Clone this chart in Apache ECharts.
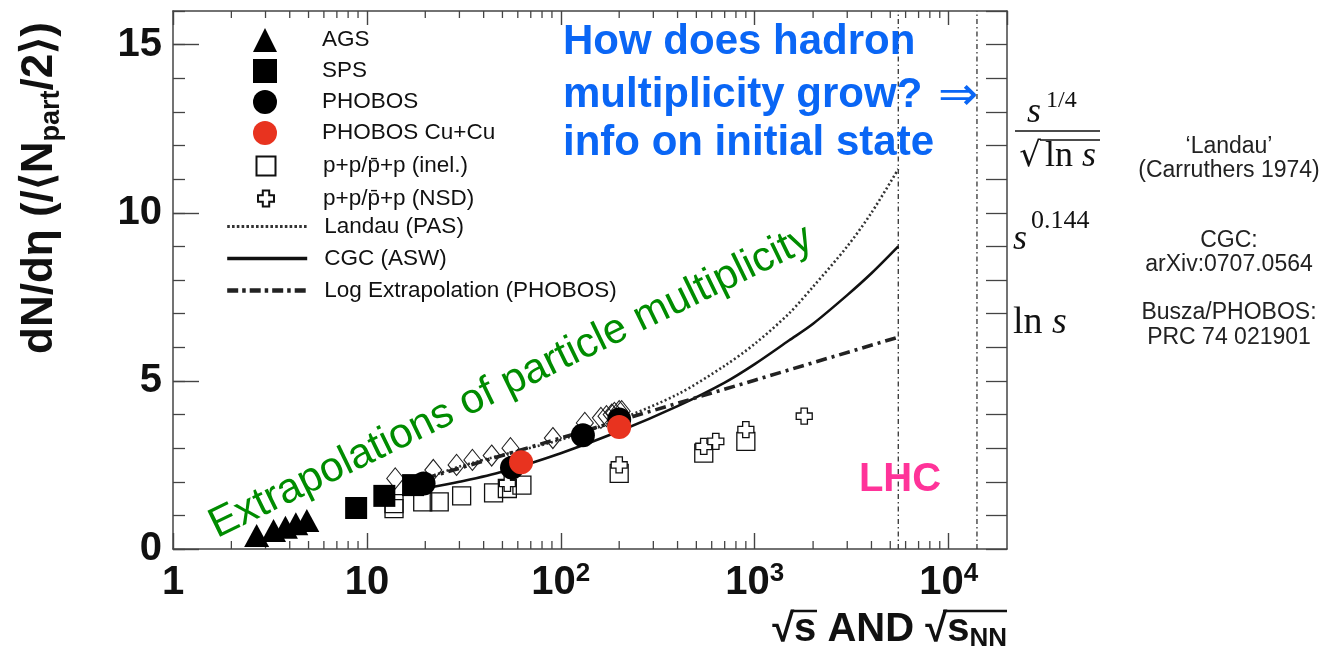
<!DOCTYPE html>
<html><head><meta charset="utf-8">
<script src="https://cdn.jsdelivr.net/npm/echarts@6/dist/echarts.min.js"></script>
<style>html,body{margin:0;padding:0;background:#fff}#c{width:1332px;height:665px}</style>
</head><body><div id="c"></div>
<script>
// ---------------- data ----------------
const agsX = [2.7, 3.3, 3.8, 4.3, 4.9];
const agsY = [0.4, 0.55, 0.65, 0.75, 0.85];
const spsX = [8.8, 12.3, 17.3];
const spsY = [1.22, 1.58, 1.9];
const phobosX = [19.6, 56, 130, 200];
const phobosY = [1.95, 2.42, 3.38, 3.85];
const cuX = [62.4, 200];
const cuY = [2.58, 3.63];
const ppInelX = [13.8, 13.8, 19.4, 23.6, 30.8, 45, 53, 63, 200, 546, 900];
const ppInelY = [1.2, 1.35, 1.4, 1.4, 1.58, 1.67, 1.8, 1.9, 2.25, 2.85, 3.2];
const ppNsdX = [53, 200, 546, 630, 900, 1800];
const ppNsdY = [1.95, 2.5, 3.05, 3.2, 3.55, 3.95];
const eeX = [14, 22, 29, 35, 44, 55, 91, 133, 161, 172, 183, 189, 200, 206];
const eeY = [2.1, 2.35, 2.5, 2.65, 2.78, 3.0, 3.3, 3.75, 3.9, 3.95, 4.0, 4.05, 4.1, 4.1];
const curveX = [20, 30, 50, 100, 200, 400, 700, 1000, 1500, 2000, 3000, 4000, 5500];
const landauY = [2.1, 2.45, 2.8, 3.25, 3.85, 4.6, 5.45, 6.1, 7.0, 7.8, 9.0, 10.0, 11.3];
const cgcY = [1.8, 2.0, 2.3, 2.85, 3.5, 4.25, 4.95, 5.5, 6.2, 6.7, 7.55, 8.2, 9.0];
const logX = [20, 100, 1000, 5500];
const logY = [2.1, 3.3, 5.02, 6.3];
const lhcLines = [5500, 14000];
const xMin = 1, xMax = 20000, yMin = 0, yMax = 16;
const decades = [1, 10, 100, 1000, 10000];
const minorMult = [2, 3, 4, 5, 6, 7, 8, 9];
const yTickLabels = ['0', '5', '10', '15'];

// ---------------- helpers ----------------
const zip = (xs, ys) => xs.map((x, i) => [x, ys[i]]);
const minorX = [];
decades.forEach(d => minorMult.forEach(m => { if (d * m < xMax) minorX.push(d * m); }));
const crossPath = 'path://M3,0H7V3H10V7H7V10H3V7H0V3H3Z';
const sansB = 'Liberation Sans';
const AX = '#444';
const N_INEL = 'p+p/p̄+p (inel.)', N_NSD = 'p+p/p̄+p (NSD)';

const chart = echarts.init(document.getElementById('c'), null, {renderer: 'canvas'});

const series = [];
lhcLines.forEach((e, i) => series.push({
  type: 'line', name: 'lhc' + i, data: [[e, yMin], [e, yMax]], symbol: 'none', silent: true,
  lineStyle: {color: '#333', width: 1.3, type: [5, 3, 1.5, 3]}, z: 1
}));
series.push({type: 'scatter', name: 'mtb', data: minorX.map(v => [v, yMin]), symbol: 'rect',
  symbolSize: [1.3, 8], symbolOffset: [0, -4], itemStyle: {color: AX, opacity: 1}, silent: true, z: 1});
series.push({type: 'scatter', name: 'mtt', data: minorX.map(v => [v, yMax]), symbol: 'rect',
  symbolSize: [1.3, 7], symbolOffset: [0, 3.5], itemStyle: {color: AX, opacity: 1}, silent: true, z: 1});
series.push({type: 'line', name: 'Landau (PAS)', data: zip(curveX, landauY), symbol: 'none', smooth: 0.3,
  lineStyle: {color: '#333', width: 2.6, type: [2, 2.5]}, itemStyle: {color: '#333', opacity: 0}, z: 3});
series.push({type: 'line', name: 'CGC (ASW)', data: zip(curveX, cgcY), symbol: 'none', smooth: 0.3,
  lineStyle: {color: '#111', width: 2.6, type: 'solid'}, itemStyle: {color: '#111', opacity: 0}, z: 3});
series.push({type: 'line', name: 'Log Extrapolation (PHOBOS)', data: zip(logX, logY), symbol: 'none',
  lineStyle: {color: '#222', width: 3.6, type: [11, 5, 3, 5]}, itemStyle: {color: '#222', opacity: 0}, z: 3});
series.push({type: 'scatter', name: 'ee', data: zip(eeX, eeY), symbol: 'diamond', symbolSize: [17, 21],
  itemStyle: {color: 'rgba(255,255,255,0)', borderColor: '#222', borderWidth: 1.1, opacity: 1}, z: 4});
series.push({type: 'scatter', name: N_INEL, data: zip(ppInelX, ppInelY), symbol: 'rect', symbolSize: 18,
  itemStyle: {color: 'rgba(255,255,255,0)', borderColor: '#111', borderWidth: 1.3, opacity: 1}, z: 5});
series.push({type: 'scatter', name: N_NSD, data: zip(ppNsdX, ppNsdY), symbol: crossPath, symbolSize: 16,
  itemStyle: {color: '#fff', borderColor: '#111', borderWidth: 1.3, opacity: 1}, z: 6});
series.push({type: 'scatter', name: 'AGS', data: zip(agsX, agsY), symbol: 'triangle', symbolSize: [25, 23],
  itemStyle: {color: '#000', opacity: 1}, z: 7});
series.push({type: 'scatter', name: 'SPS', data: zip(spsX, spsY), symbol: 'rect', symbolSize: 22,
  itemStyle: {color: '#000', opacity: 1}, z: 7});
series.push({type: 'scatter', name: 'PHOBOS', data: zip(phobosX, phobosY), symbol: 'circle', symbolSize: 24,
  itemStyle: {color: '#000', opacity: 1}, z: 7});
series.push({type: 'scatter', name: 'PHOBOS Cu+Cu', data: zip(cuX, cuY), symbol: 'circle', symbolSize: 24,
  itemStyle: {color: '#e8331f', opacity: 1}, z: 8});

const xLabel = v => {
  const e = Math.round(Math.log10(v));
  if (e === 0) return '{b|1}';
  if (e === 1) return '{b|10}';
  return '{b|10}{e|' + e + '}';
};
const legendText = (pad, lh) => ({fontSize: 22.5, color: '#111', fontFamily: sansB, padding: [0, 0, 0, pad], lineHeight: lh});
const legendBase = {orient: 'vertical', selectedMode: false, padding: 0};

const T = (x, y, text, font, fill, align, extra) => Object.assign({type: 'text', x: x, y: y, z: 20,
  style: {text: text, font: font, fill: fill, align: align, verticalAlign: 'middle', textAlign: align, textVerticalAlign: 'middle'}}, extra || {});

const option = {
  animation: false,
  backgroundColor: '#fff',
  grid: {left: 173, right: 325, top: 11, bottom: 116},
  legend: [
    Object.assign({}, legendBase, {data: ['AGS', 'SPS', 'PHOBOS', 'PHOBOS Cu+Cu'], left: 253, top: 28,
      itemWidth: 24, itemHeight: 24, itemGap: 7, textStyle: legendText(40, 24)}),
    Object.assign({}, legendBase, {data: [N_INEL], left: 255.5, top: 154.5,
      itemWidth: 19, itemHeight: 19, itemGap: 12, textStyle: legendText(42.5, 19)}),
    Object.assign({}, legendBase, {data: [N_NSD], left: 257, top: 187,
      itemWidth: 16, itemHeight: 16, itemGap: 12, textStyle: legendText(44, 16)}),
    Object.assign({}, legendBase, {
      data: [
        {name: 'Landau (PAS)', lineStyle: {width: 3.2, type: [2.6, 2.2], color: '#333'}},
        {name: 'CGC (ASW)', lineStyle: {width: 3.4, type: 'solid', color: '#111'}},
        {name: 'Log Extrapolation (PHOBOS)', lineStyle: {width: 4.4, type: [11, 4, 3.5, 4], color: '#222'}}
      ],
      left: 225, top: 215, itemWidth: 80, itemHeight: 22, itemGap: 9, textStyle: legendText(12, 22)})
  ],
  xAxis: [
    {type: 'log', logBase: 10, min: xMin, max: xMax, position: 'bottom',
      axisLine: {onZero: false, lineStyle: {color: AX, width: 1.5}},
      axisTick: {inside: true, length: 16, lineStyle: {color: AX, width: 1.4}},
      splitLine: {show: false},
      axisLabel: {showMaxLabel: false, margin: 12, formatter: xLabel,
        rich: {b: {fontSize: 40, fontWeight: 'bold', fontFamily: sansB, color: '#111', lineHeight: 44},
               e: {fontSize: 26, fontWeight: 'bold', fontFamily: sansB, color: '#111', verticalAlign: 'top', lineHeight: 24}}}},
    {type: 'log', logBase: 10, min: xMin, max: xMax, position: 'top',
      axisLine: {onZero: false, lineStyle: {color: AX, width: 1.5}},
      axisTick: {inside: true, length: 14, lineStyle: {color: AX, width: 1.4}},
      splitLine: {show: false}, axisLabel: {show: false}}
  ],
  yAxis: [
    {type: 'value', min: yMin, max: yMax, interval: 5, position: 'left',
      axisLine: {show: true, onZero: false, lineStyle: {color: AX, width: 1.5}},
      axisTick: {inside: true, length: 26, lineStyle: {color: AX, width: 1.4}},
      splitLine: {show: false},
      axisLabel: {showMaxLabel: false, margin: 11, fontSize: 40, fontWeight: 'bold', fontFamily: sansB, color: '#111',
        formatter: v => yTickLabels[v / 5]}},
    {type: 'value', min: yMin, max: yMax, interval: 1, position: 'left',
      axisLine: {show: false, onZero: false}, axisTick: {inside: true, length: 12, lineStyle: {color: AX, width: 1.3}},
      splitLine: {show: false}, axisLabel: {show: false}},
    {type: 'value', min: yMin, max: yMax, interval: 1, position: 'right',
      axisLine: {show: true, onZero: false, lineStyle: {color: AX, width: 1.5}},
      axisTick: {inside: true, length: 21, lineStyle: {color: AX, width: 1.3}},
      splitLine: {show: false}, axisLabel: {show: false}}
  ],
  series: series,
  graphic: [
    {type: 'text', x: 40, y: 188, rotation: Math.PI / 2, z: 20,
      style: {text: '{a|dN/dη (/⟨N}{s|part}{a|/2⟩)}', align: 'center', verticalAlign: 'middle',
        textAlign: 'center', textVerticalAlign: 'middle',
        rich: {a: {fontSize: 44, fontWeight: 'bold', fontFamily: sansB, fill: '#111', color: '#111', lineHeight: 50},
               s: {fontSize: 27, fontWeight: 'bold', fontFamily: sansB, fill: '#111', color: '#111', lineHeight: 27, verticalAlign: 'bottom'}}}},
    {type: 'text', x: 1007, y: 630, z: 20,
      style: {text: '{a|√s AND √s}{n|NN}', align: 'right', verticalAlign: 'middle', textAlign: 'right', textVerticalAlign: 'middle',
        rich: {a: {fontSize: 40, fontWeight: 'bold', fontFamily: sansB, fill: '#111', color: '#111', lineHeight: 44},
               n: {fontSize: 26, fontWeight: 'bold', fontFamily: sansB, fill: '#111', color: '#111', lineHeight: 26, verticalAlign: 'bottom'}}}},
    {type: 'line', z: 20, shape: {x1: 791, y1: 611, x2: 817, y2: 611}, style: {stroke: '#111', lineWidth: 2.5}},
    {type: 'line', z: 20, shape: {x1: 943, y1: 611, x2: 1007, y2: 611}, style: {stroke: '#111', lineWidth: 2.5}},
    T(563, 42, 'How does hadron', 'bold 42px "Liberation Sans"', '#0a66f5', 'left'),
    T(563, 95, 'multiplicity grow?', 'bold 42px "Liberation Sans"', '#0a66f5', 'left'),
    T(563, 143, 'info on initial state', 'bold 42px "Liberation Sans"', '#0a66f5', 'left'),
    T(938, 98, '⇒', '48px "DejaVu Sans"', '#0a66f5', 'left'),
    T(511, 382, 'Extrapolations of particle multiplicity', '42px "Liberation Sans"', '#008c00', 'center', {rotation: 26 * Math.PI / 180}),
    T(900, 480, 'LHC', 'bold 40px "Liberation Sans"', '#ff3399', 'center'),
    T(1034, 113, 's', 'italic 36px "Liberation Serif"', '#111', 'center'),
    T(1046, 101, '1/4', '24px "Liberation Serif"', '#111', 'left'),
    {type: 'line', z: 20, shape: {x1: 1015, y1: 131, x2: 1100, y2: 131}, style: {stroke: '#111', lineWidth: 1.6}},
    T(1030, 157, '√', '34px "DejaVu Serif"', '#111', 'center'),
    {type: 'line', z: 20, shape: {x1: 1040, y1: 140, x2: 1100, y2: 140}, style: {stroke: '#111', lineWidth: 1.6}},
    {type: 'text', x: 1045, y: 157, z: 20, style: {text: '{r|ln }{i|s}', align: 'left', verticalAlign: 'middle', textAlign: 'left', textVerticalAlign: 'middle',
      rich: {r: {fontSize: 36, fontFamily: 'Liberation Serif', fill: '#111', color: '#111'}, i: {fontSize: 36, fontStyle: 'italic', fontFamily: 'Liberation Serif', fill: '#111', color: '#111'}}}},
    T(1020, 240, 's', 'italic 36px "Liberation Serif"', '#111', 'center'),
    T(1031, 221, '0.144', '26px "Liberation Serif"', '#111', 'left'),
    {type: 'text', x: 1013, y: 323, z: 20, style: {text: '{r|ln }{i|s}', align: 'left', verticalAlign: 'middle', textAlign: 'left', textVerticalAlign: 'middle',
      rich: {r: {fontSize: 38, fontFamily: 'Liberation Serif', fill: '#111', color: '#111'}, i: {fontSize: 38, fontStyle: 'italic', fontFamily: 'Liberation Serif', fill: '#111', color: '#111'}}}},
    T(1229, 147, '‘Landau’', '23px "Liberation Sans"', '#222', 'center'),
    T(1229, 171, '(Carruthers 1974)', '23px "Liberation Sans"', '#222', 'center'),
    T(1229, 241, 'CGC:', '23px "Liberation Sans"', '#222', 'center'),
    T(1229, 265, 'arXiv:0707.0564', '23px "Liberation Sans"', '#222', 'center'),
    T(1229, 313, 'Busza/PHOBOS:', '23px "Liberation Sans"', '#222', 'center'),
    T(1229, 338, 'PRC 74 021901', '23px "Liberation Sans"', '#222', 'center')
  ]
};
chart.setOption(option);
</script></body></html>
